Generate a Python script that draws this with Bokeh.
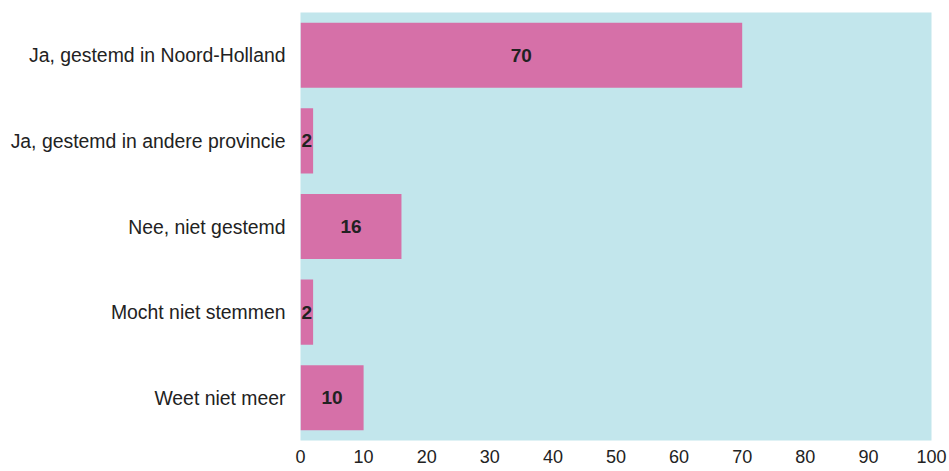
from bokeh.plotting import figure
from bokeh.models import ColumnDataSource, FactorRange, Range1d, FixedTicker
from bokeh.core.properties import value
from bokeh.embed import file_html
from bokeh.resources import INLINE

categories = ["Ja, gestemd in Noord-Holland", "Ja, gestemd in andere provincie",
              "Nee, niet gestemd", "Mocht niet stemmen", "Weet niet meer"]
values = [70, 2, 16, 2, 10]
x_ticks = [0, 10, 20, 30, 40, 50, 60, 70, 80, 90, 100]

src = ColumnDataSource(dict(
    cat=categories,
    val=values,
    mid=[v / 2 for v in values],
    lab=[str(v) for v in values],
))

p = figure(
    y_range=FactorRange(factors=list(reversed(categories)), range_padding=0),
    x_range=Range1d(0, 100),
    width=949, height=471,
    frame_width=631, frame_height=428,
    min_border_left=300, min_border_top=12, min_border_right=18, min_border_bottom=31,
    output_backend="svg", toolbar_location=None,
)
p.background_fill_color = "#C2E6EC"
p.border_fill_color = "white"
p.outline_line_color = None
p.xgrid.grid_line_color = None
p.ygrid.grid_line_color = None

p.hbar(y="cat", right="val", left=0, height=0.76, source=src,
       fill_color="#D670A8", line_color=None)
p.text(x="mid", y="cat", text="lab", source=src, text_align="center",
       text_baseline="middle", text_font=value("Liberation Sans"),
       text_font_style="bold", text_font_size="19px", text_color="#222222")

p.xaxis.ticker = FixedTicker(ticks=x_ticks)
for ax in (p.xaxis, p.yaxis):
    ax.axis_line_color = None
    ax.major_tick_line_color = None
    ax.minor_tick_line_color = None
    ax.major_tick_out = 0
    ax.major_tick_in = 0
    ax.major_label_text_font = "Liberation Sans"
    ax.major_label_text_color = "#222222"
p.xaxis.major_label_text_font_size = "18px"
p.xaxis.major_label_standoff = 9
p.yaxis.major_label_text_font_size = "19.4px"
p.yaxis.major_label_standoff = 15

open("out.html", "w").write(file_html(p, INLINE))
